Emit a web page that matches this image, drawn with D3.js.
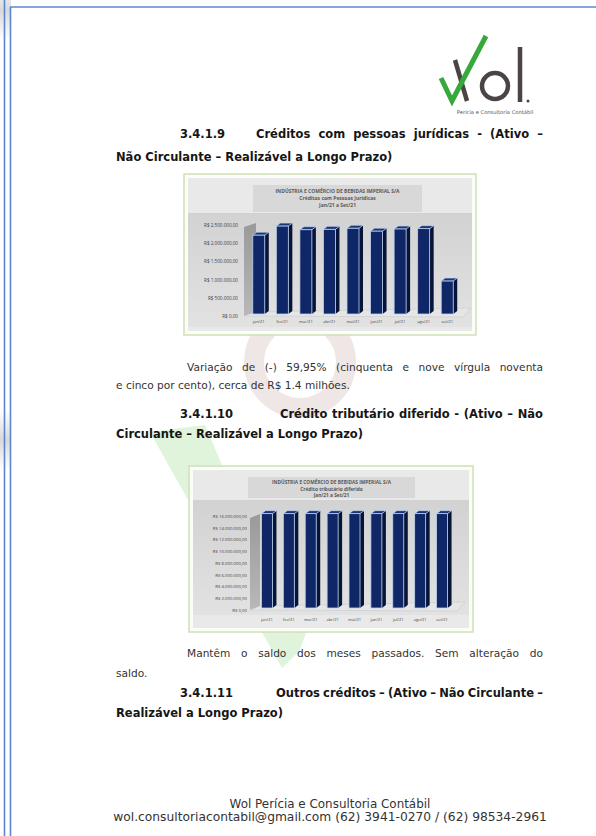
<!DOCTYPE html>
<html>
<head>
<meta charset="utf-8">
<script src="https://cdn.jsdelivr.net/npm/d3@7"></script>
<style>
  html, body { margin: 0; padding: 0; background: #fff; }
  svg { display: block; }
  .body { font-family: "DejaVu Sans", Verdana, sans-serif; font-size: 10.6px; fill: #333; }
  .head { font-family: "DejaVu Sans", Verdana, sans-serif; font-size: 11.5px; font-weight: bold; fill: #161616; }
  .foot { font-family: "DejaVu Sans", Verdana, sans-serif; fill: #333; }
  .ctitle { font-family: "Open Sans", "Liberation Sans", sans-serif; font-weight: bold; fill: #595959; text-anchor: middle; }
  .ctick { font-family: "Open Sans", "Liberation Sans", sans-serif; fill: #404040; }
</style>
</head>
<body>
<svg id="page" width="596" height="836"></svg>
<script>
// ---- data ----
var months = ["jan/21", "fev/21", "mar/21", "abr/21", "mai/21", "jun/21", "jul/21", "ago/21", "set/21"];
var creditosPJ = [2220000, 2470000, 2370000, 2380000, 2410000, 2330000, 2390000, 2400000, 960000];
var creditoTrib = [16400000, 16400000, 16400000, 16400000, 16400000, 16400000, 16400000, 16400000, 16400000];
var ticksPJ = [0, 500000, 1000000, 1500000, 2000000, 2500000];
var ticksTrib = [0, 2000000, 4000000, 6000000, 8000000, 10000000, 12000000, 14000000, 16000000];
var titlePJ = ["INDÚSTRIA E COMÉRCIO DE BEBIDAS IMPERIAL S/A", "Créditos com Pessoas Jurídicas", "Jan/21 a Set/21"];
var titleTrib = ["INDÚSTRIA E COMÉRCIO DE BEBIDAS IMPERIAL S/A", "Crédito tributário diferido", "Jan/21 a Set/21"];

var brl = d3.formatLocale({decimal: ",", thousands: ".", grouping: [3], currency: ["R$ ", ""]}).format("$,.2f");

var svg = d3.select("#page");
var defs = svg.append("defs");

var plotGrad = defs.append("linearGradient").attr("id", "plotGrad").attr("x1", 0).attr("y1", 0).attr("x2", 0).attr("y2", 1);
plotGrad.append("stop").attr("offset", 0).attr("stop-color", "#d2d2d2");
plotGrad.append("stop").attr("offset", 1).attr("stop-color", "#e2e2e2");
var wallGrad = defs.append("linearGradient").attr("id", "wallGrad").attr("x1", 0).attr("y1", 0).attr("x2", 0).attr("y2", 1);
wallGrad.append("stop").attr("offset", 0).attr("stop-color", "#9a9a9a");
wallGrad.append("stop").attr("offset", 1).attr("stop-color", "#b8b8b8");
var shadeGrad = defs.append("linearGradient").attr("id", "shadeGrad").attr("x1", 0).attr("y1", 0).attr("x2", 0).attr("y2", 1);
shadeGrad.append("stop").attr("offset", 0).attr("stop-color", "#d9d9d9").attr("stop-opacity", 0);
shadeGrad.append("stop").attr("offset", 0.5).attr("stop-color", "#d9d9d9").attr("stop-opacity", 1);
shadeGrad.append("stop").attr("offset", 1).attr("stop-color", "#d9d9d9").attr("stop-opacity", 0);

// ---- watermark (faint) ----
var wm = svg.append("g").attr("opacity", 0.6);
wm.append("circle").attr("cx", 300).attr("cy", 362).attr("r", 46)
    .attr("fill", "none").attr("stroke", "#e6d6d6").attr("stroke-width", 20);
wm.append("path").attr("d", "M150,432 L205,425 L300,650 L282,668 Z").attr("fill", "#cdeec4");
wm.append("path").attr("d", "M282,668 L300,650 L345,520 L330,520 Z").attr("fill", "#cdeec4");

// ---- page border ----
svg.append("rect").attr("x", 0).attr("y", -20).attr("width", 11).attr("height", 60).attr("fill", "url(#shadeGrad)");
svg.append("rect").attr("x", 0).attr("y", 410).attr("width", 11).attr("height", 60).attr("fill", "url(#shadeGrad)");
svg.append("line").attr("x1", 4.5).attr("y1", 0).attr("x2", 4.5).attr("y2", 836).attr("stroke", "#5a86d0").attr("stroke-width", 1.6);
svg.append("line").attr("x1", 10.5).attr("y1", 7).attr("x2", 10.5).attr("y2", 836).attr("stroke", "#5a86d0").attr("stroke-width", 1.6);
svg.append("line").attr("x1", 10).attr("y1", 7).attr("x2", 596).attr("y2", 7).attr("stroke", "#5a86d0").attr("stroke-width", 1.6);

// ---- logo ----
var logo = svg.append("g");
logo.append("path").attr("d", "M455,60 L467,101").attr("stroke", "#4a4444").attr("stroke-width", 4.5).attr("fill", "none");
logo.append("path").attr("d", "M441,78 L452,101 L486,36").attr("stroke", "#36a93a").attr("stroke-width", 5)
    .attr("fill", "none").attr("stroke-linejoin", "miter");
logo.append("circle").attr("cx", 495).attr("cy", 86).attr("r", 13).attr("fill", "none").attr("stroke", "#4a4444").attr("stroke-width", 4.5);
logo.append("line").attr("x1", 520).attr("y1", 47).attr("x2", 520).attr("y2", 102).attr("stroke", "#4a4444").attr("stroke-width", 4.5);
logo.append("circle").attr("cx", 528).attr("cy", 101).attr("r", 1.5).attr("fill", "#4a4444");
logo.append("text").attr("x", 495).attr("y", 114).attr("text-anchor", "middle")
    .style("font-family", "'DejaVu Sans', sans-serif").style("font-size", "5.2px").style("fill", "#555")
    .text("Perícia e Consultoria Contábil");

// ---- text helpers ----
var LEFT = 116, RIGHT = 543;

function justify(words, x0, x1, y, cls) {
    var nodes = words.map(function(w) { return svg.append("text").attr("class", cls).attr("y", y).text(w); });
    var widths = nodes.map(function(n) { return n.node().getComputedTextLength(); });
    var gap = (x1 - x0 - d3.sum(widths)) / (words.length - 1);
    var x = x0;
    nodes.forEach(function(n, i) { n.attr("x", x); x += widths[i] + gap; });
}
function plain(str, x, y, cls) {
    svg.append("text").attr("class", cls).attr("x", x).attr("y", y).text(str);
}
function heading(num, title, line2, titleX, y, y2) {
    plain(num, 180, y, "head");
    justify(title.split(" "), titleX, RIGHT, y, "head");
    plain(line2, LEFT, y2, "head");
}

heading("3.4.1.9", "Créditos com pessoas jurídicas - (Ativo –", "Não Circulante – Realizável a Longo Prazo)", 256, 138, 161);
justify("Variação de (-) 59,95% (cinquenta e nove vírgula noventa".split(" "), 187, RIGHT, 371, "body");
plain("e cinco por cento), cerca de R$ 1.4 milhões.", LEFT, 389, "body");
heading("3.4.1.10", "Crédito tributário diferido - (Ativo – Não", "Circulante – Realizável a Longo Prazo)", 280, 418, 438);
justify("Mantêm o saldo dos meses passados. Sem alteração do".split(" "), 187, RIGHT, 657, "body");
plain("saldo.", LEFT, 677, "body");
heading("3.4.1.11", "Outros créditos – (Ativo – Não Circulante –", "Realizável a Longo Prazo)", 276, 697, 717);

// footer, each line fitted to its width
function fitted(str, cx, y, width) {
    var t = svg.append("text").attr("class", "foot").attr("x", cx).attr("y", y).attr("text-anchor", "middle")
        .style("font-size", "10px").text(str);
    var w = t.node().getComputedTextLength();
    t.style("font-size", (10 * width / w) + "px");
}
fitted("Wol Perícia e Consultoria Contábil", 330, 808, 201);
fitted("wol.consultoriacontabil@gmail.com (62) 3941-0270 / (62) 98534-2961", 330, 821, 434);

// ---- 3D column chart ----
function columnChart(cfg, values, ticks, titleLines) {
    var g = svg.append("g");
    var f = cfg.frame;

    g.append("rect").attr("x", f.x).attr("y", f.y).attr("width", f.w).attr("height", f.h)
        .attr("fill", "#fbfdf7").attr("stroke", "#cfe0b8").attr("stroke-width", 1.5);
    g.append("rect").attr("x", f.x + 4).attr("y", f.y + 4).attr("width", f.w - 8).attr("height", f.h - 8)
        .attr("fill", "#e9e9e9");
    g.append("rect").attr("x", f.x + 4).attr("y", cfg.plotTop).attr("width", f.w - 8).attr("height", cfg.plotBottom - cfg.plotTop)
        .attr("fill", "url(#plotGrad)");

    var tb = cfg.titleBox;
    g.append("rect").attr("x", tb.x).attr("y", tb.y).attr("width", tb.w).attr("height", tb.h).attr("fill", "#d8d8d8");
    g.selectAll("text.ctitle").data(titleLines).enter().append("text")
        .attr("class", "ctitle")
        .attr("x", tb.x + tb.w / 2)
        .attr("y", function(d, i) { return cfg.titleY[i]; })
        .style("font-size", cfg.titleSize + "px")
        .text(function(d) { return d; });

    var y = d3.scaleLinear().domain([0, ticks[ticks.length - 1]]).range(cfg.yRange);
    var n = months.length;
    var step = (cfg.xRange[1] - cfg.xRange[0]) / n;
    var pad = 1 - cfg.barW / step;
    var x = d3.scaleBand().domain(months).range(cfg.xRange).paddingInner(pad).paddingOuter(pad / 2);

    // back wall and floor
    var w0 = cfg.wall[0], w1 = cfg.wall[1], dy = cfg.depth;
    var yTop = y(ticks[ticks.length - 1]) - 2, y0 = y(0);
    g.append("path").attr("d", "M" + w0 + "," + (yTop + dy) + "L" + w1 + "," + yTop + "L" + w1 + "," + (y0 - dy) + "L" + w0 + "," + y0 + "Z")
        .attr("fill", "url(#wallGrad)");
    var xEnd = cfg.xRange[1] + 4;
    g.append("path").attr("d", "M" + w0 + "," + y0 + "L" + w1 + "," + (y0 - dy) + "L" + (xEnd + 8) + "," + (y0 - dy - 4) + "L" + xEnd + "," + (y0 + 1) + "Z")
        .attr("fill", "#e6e6e6").attr("stroke", "#c4c4c4").attr("stroke-width", 0.5);

    // y axis labels
    var axis = d3.axisLeft(y).tickValues(ticks).tickFormat(brl).tickSize(0).tickPadding(0);
    var ag = g.append("g").attr("transform", "translate(" + cfg.labelRight + ",0)").call(axis);
    ag.select(".domain").remove();
    ag.selectAll("text").attr("class", "ctick").style("font-size", cfg.tickSize + "px").attr("font-family", null);

    // bars
    var bw = x.bandwidth(), dx = cfg.barDx, ddy = cfg.barDy, base = y0 - 2;
    var bars = g.selectAll("g.bar").data(values).enter().append("g").attr("class", "bar");
    bars.append("path").attr("fill", "#07143a").attr("d", function(v, i) {
        var x0 = x(months[i]) + bw, t = y(v);
        return "M" + x0 + "," + t + "L" + (x0 + dx) + "," + (t - ddy) + "L" + (x0 + dx) + "," + (base - ddy) + "L" + x0 + "," + base + "Z";
    });
    bars.append("path").attr("fill", "#1c3577").attr("stroke", "#bcd2ee").attr("stroke-width", 0.7).attr("d", function(v, i) {
        var x0 = x(months[i]), t = y(v);
        return "M" + x0 + "," + t + "L" + (x0 + dx) + "," + (t - ddy) + "L" + (x0 + bw + dx) + "," + (t - ddy) + "L" + (x0 + bw) + "," + t + "Z";
    });
    bars.append("rect").attr("fill", "#0f2667").attr("stroke", "#bcd2ee").attr("stroke-width", 0.8)
        .attr("x", function(v, i) { return x(months[i]); })
        .attr("y", function(v) { return y(v); })
        .attr("width", bw)
        .attr("height", function(v) { return base - y(v); });

    // x labels
    g.selectAll("text.xl").data(months).enter().append("text")
        .attr("class", "ctick xl")
        .attr("x", function(d) { return x(d) + bw / 2; })
        .attr("y", cfg.xLabelY)
        .attr("text-anchor", "middle")
        .style("font-size", cfg.xSize + "px")
        .text(function(d) { return d; });
}

columnChart({
    frame: {x: 184, y: 174, w: 292, h: 161},
    plotTop: 213, plotBottom: 327,
    titleBox: {x: 253, y: 185, w: 169, h: 27},
    titleY: [193, 200, 207], titleSize: 5,
    yRange: [316, 225], labelRight: 238, tickSize: 4.6,
    wall: [244, 256], depth: 4,
    xRange: [247, 459], barW: 12, barDx: 4, barDy: 3,
    xLabelY: 323, xSize: 4
}, creditosPJ, ticksPJ, titlePJ);

columnChart({
    frame: {x: 189, y: 466, w: 284, h: 166},
    plotTop: 500, plotBottom: 615,
    titleBox: {x: 248, y: 477, w: 167, h: 21},
    titleY: [484, 490.5, 497], titleSize: 4.8,
    yRange: [610, 516], labelRight: 247, tickSize: 4.3,
    wall: [250, 260], depth: 4,
    xRange: [256, 453], barW: 11, barDx: 4, barDy: 3,
    xLabelY: 621, xSize: 4
}, creditoTrib, ticksTrib, titleTrib);
</script>
</body>
</html>
